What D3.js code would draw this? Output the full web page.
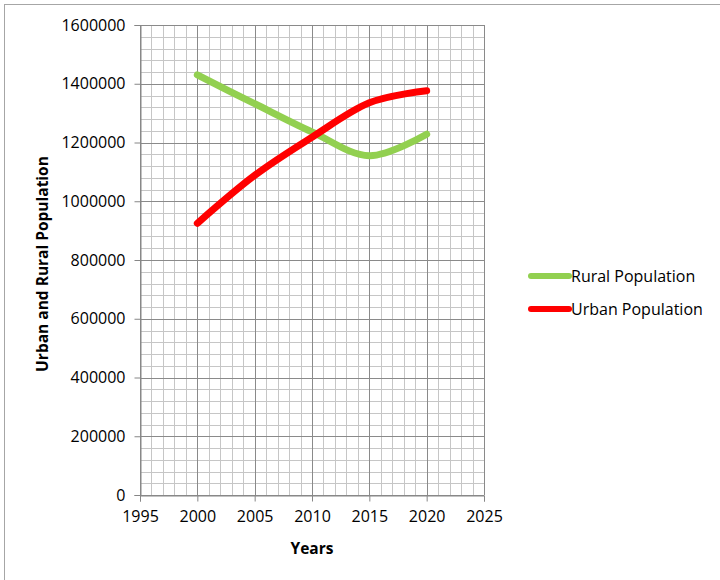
<!DOCTYPE html>
<html>
<head>
<meta charset="utf-8">
<script src="https://cdn.jsdelivr.net/npm/d3@7"></script>
<style>
  body { margin: 0; background: #fff; }
  svg { display: block; font-family: "Open Sans", "Liberation Sans", sans-serif; }
</style>
</head>
<body>
<svg class="canvas" width="720" height="580"></svg>
<script>
// values
var years = [2000, 2005, 2010, 2015, 2020];
var rural = [1430000, 1332000, 1236000, 1155000, 1228000];
var urban = [925000, 1088000, 1218000, 1335000, 1376000];
var seriesNames = ["Rural Population", "Urban Population"];
var seriesColors = ["#92d050", "#ff0000"];
var xTicks = [1995, 2000, 2005, 2010, 2015, 2020, 2025];
var yTicks = [0, 200000, 400000, 600000, 800000, 1000000, 1200000, 1400000, 1600000];

var plotLeft = 140, plotTop = 25, plotW = 344, plotH = 470;
var svg = d3.select(".canvas");

// outer chart border
svg.append("rect")
	.attr("x", 4.5).attr("y", 4.5)
	.attr("width", 800).attr("height", 800)
	.attr("fill", "none").attr("stroke", "#a6a6a6");

var x = d3.scaleLinear().domain([1995, 2025]).range([plotLeft, plotLeft + plotW]);
var y = d3.scaleLinear().domain([0, 1600000]).range([plotTop + plotH, plotTop]);

var g = svg.append("g");

// minor grid
g.selectAll(".mx").data(d3.range(1995, 2026, 1)).enter().append("line")
	.attr("x1", function(d){ return Math.round(x(d)) + 0.5; })
	.attr("x2", function(d){ return Math.round(x(d)) + 0.5; })
	.attr("y1", plotTop).attr("y2", plotTop + plotH)
	.attr("stroke", "#c6c6c6");
g.selectAll(".my").data(d3.range(0, 1600001, 40000)).enter().append("line")
	.attr("y1", function(d){ return Math.round(y(d)) + 0.5; })
	.attr("y2", function(d){ return Math.round(y(d)) + 0.5; })
	.attr("x1", plotLeft).attr("x2", plotLeft + plotW)
	.attr("stroke", "#c6c6c6");

// major grid
g.selectAll(".Mx").data(xTicks).enter().append("line")
	.attr("x1", function(d){ return Math.round(x(d)) + 0.5; })
	.attr("x2", function(d){ return Math.round(x(d)) + 0.5; })
	.attr("y1", plotTop).attr("y2", plotTop + plotH)
	.attr("stroke", "#8a8a8a");
g.selectAll(".My").data(yTicks).enter().append("line")
	.attr("y1", function(d){ return Math.round(y(d)) + 0.5; })
	.attr("y2", function(d){ return Math.round(y(d)) + 0.5; })
	.attr("x1", plotLeft).attr("x2", plotLeft + plotW)
	.attr("stroke", "#8a8a8a");

// axes
var xAxis = d3.axisBottom(x).tickValues(xTicks).tickFormat(d3.format("d")).tickSize(6).tickPadding(9);
var yAxis = d3.axisLeft(y).tickValues(yTicks).tickFormat(d3.format("d")).tickSize(6).tickPadding(9);

var gx = svg.append("g").attr("transform", "translate(0," + (Math.round(y(0)) + 0.5) + ")").call(xAxis);
var gy = svg.append("g").attr("transform", "translate(" + (Math.round(x(1995)) + 0.5) + ",0)").call(yAxis);
[gx, gy].forEach(function(a){
	a.select(".domain").attr("stroke", "#868686");
	a.selectAll(".tick line").attr("stroke", "#868686");
	a.selectAll("text").attr("fill", "#000").style("font-size", "16px").style("font-family", "'Open Sans', sans-serif");
});

// lines
var line = d3.line()
	.x(function(d){ return x(d[0]); })
	.y(function(d){ return y(d[1]); })
	.curve(d3.curveCatmullRom.alpha(0));

[rural, urban].forEach(function(vals, i){
	svg.append("path")
		.datum(years.map(function(yr, j){ return [yr, vals[j]]; }))
		.attr("d", line)
		.attr("fill", "none")
		.attr("stroke", seriesColors[i])
		.attr("stroke-width", 7)
		.attr("stroke-linecap", "round")
		.attr("stroke-linejoin", "round");
});

// axis titles
svg.append("text")
	.attr("x", x(2010)).attr("y", 554)
	.attr("text-anchor", "middle")
	.style("font-size", "15.5px").style("font-weight", "bold")
	.text("Years");
svg.append("text")
	.attr("transform", "translate(48,264) rotate(-90)")
	.attr("text-anchor", "middle")
	.style("font-size", "15.5px").style("font-weight", "bold")
	.text("Urban and Rural Population");

// legend
var lg = svg.selectAll(".lg").data(seriesNames).enter().append("g")
	.attr("transform", function(d, i){ return "translate(531," + (276 + i * 33) + ")"; });
lg.append("line")
	.attr("x1", 0).attr("x2", 38)
	.attr("stroke", function(d, i){ return seriesColors[i]; })
	.attr("stroke-width", 6)
	.attr("stroke-linecap", "round");
lg.append("text")
	.attr("x", 40).attr("dy", "0.35em")
	.style("font-size", "16px")
	.text(function(d){ return d; });
</script>
</body>
</html>
